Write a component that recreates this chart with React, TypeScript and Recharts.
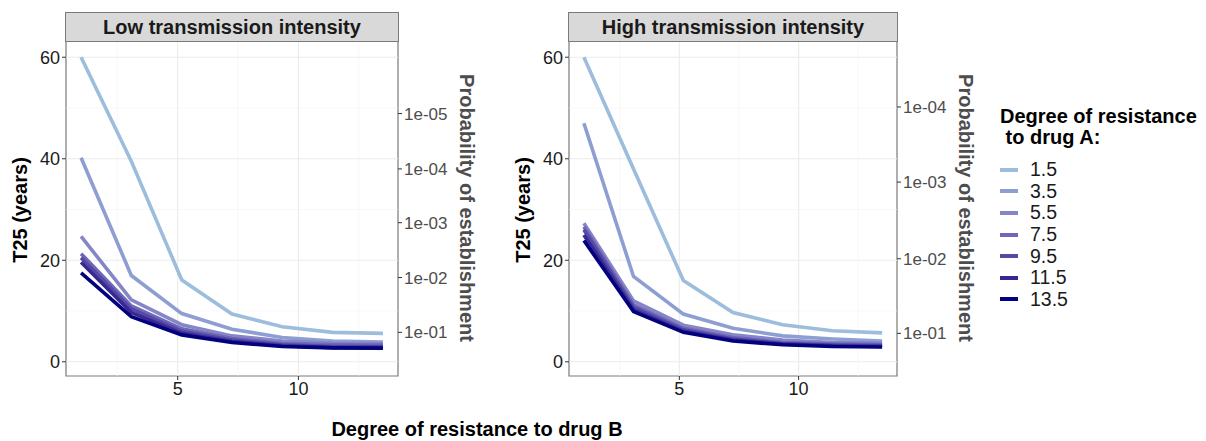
import { CSSProperties } from "react";
import { LineChart, Line, XAxis, YAxis, ReferenceLine, ReferenceArea } from "recharts";

// degree of resistance to drug B (x positions of the simulated points)
const X_VALUES = [1, 3.08, 5.17, 7.25, 9.33, 11.42, 13.5];

// degree of resistance to drug A (series)
const LEVELS = ["1.5", "3.5", "5.5", "7.5", "9.5", "11.5", "13.5"];
const COLORS = ["#9dbddd", "#8d9ed2", "#8585c8", "#6f68b9", "#5548a6", "#382894", "#02027f"];

// T25 (years), low transmission intensity
const low15 = [60, 39.5, 16.1, 9.4, 6.9, 5.8, 5.6];
const low35 = [40.2, 17.0, 9.5, 6.4, 4.8, 4.1, 3.9];
const low55 = [24.7, 12.2, 7.3, 5.1, 4.1, 3.7, 3.6];
const low75 = [21.3, 11.0, 6.5, 4.6, 3.6, 3.35, 3.3];
const low95 = [20.5, 10.4, 6.0, 4.3, 3.35, 3.0, 3.0];
const low115 = [19.6, 9.7, 5.6, 4.0, 3.15, 2.8, 2.8];
const low135 = [17.5, 8.9, 5.3, 3.8, 3.0, 2.75, 2.7];

// T25 (years), high transmission intensity
const high15 = [60, 38.0, 16.0, 9.7, 7.3, 6.1, 5.7];
const high35 = [47.0, 16.8, 9.4, 6.6, 5.1, 4.5, 4.1];
const high55 = [27.3, 12.0, 7.2, 5.3, 4.3, 3.8, 3.7];
const high75 = [26.6, 11.2, 6.6, 4.8, 3.8, 3.5, 3.4];
const high95 = [26.0, 10.7, 6.3, 4.5, 3.6, 3.3, 3.2];
const high115 = [25.0, 10.2, 6.0, 4.3, 3.5, 3.15, 3.0];
const high135 = [23.9, 9.9, 5.8, 4.1, 3.35, 3.0, 2.9];

// secondary axis: probability of establishment, placed on the T25 scale
const lowProbAt = [48.9, 38.0, 27.4, 16.6, 5.8];
const lowProbLabels = ["1e-05", "1e-04", "1e-03", "1e-02", "1e-01"];
const highProbAt = [50.2, 35.4, 20.3, 5.6];
const highProbLabels = ["1e-04", "1e-03", "1e-02", "1e-01"];

const T25_TICKS = [0, 20, 40, 60];
const X_TICKS = [5, 10];
const GRID_X = [2.5, 5, 7.5, 10, 12.5];
const GRID_Y = [0, 10, 20, 30, 40, 50, 60];

const X_DOMAIN: [number, number] = [0.375, 14.125];
const Y_DOMAIN: [number, number] = [-2.8, 63.2];

const FONT = '"Liberation Sans", Arial, Helvetica, sans-serif';

const buildRows = (series: number[][]) =>
    X_VALUES.map((x, i) => {
        const row: Record<string, number> = { x };
        series.forEach((s, k) => {
            row["s" + k] = s[i];
        });
        return row;
    });

const lowData = buildRows([low15, low35, low55, low75, low95, low115, low135]);
const highData = buildRows([high15, high35, high55, high75, high95, high115, high135]);

interface PanelProps {
    left: number;
    title: string;
    data: Record<string, number>[];
    probAt: number[];
    probLabels: string[];
    marginRight: number;
}

const W = 480;
const H = 441;
const PLOT_LEFT = 66;
const PLOT_TOP = 41;
const PLOT_BOTTOM = 376;

const Panel = ({ left, title, data, probAt, probLabels, marginRight }: PanelProps) => {
    const plotRight = W - marginRight - 50;
    const strip: CSSProperties = {
        position: "absolute",
        left: left + PLOT_LEFT - 1,
        top: 12,
        width: plotRight - PLOT_LEFT,
        height: 28,
        background: "#d9d9d9",
        border: "1px solid #7a7a7a",
        fontFamily: FONT,
        fontWeight: "bold",
        fontSize: 20,
        lineHeight: "28px",
        textAlign: "center",
        color: "#1a1a1a",
    };
    const leftTitle: CSSProperties = {
        position: "absolute",
        left: left + 20 - 100,
        top: 210 - 12,
        width: 200,
        height: 24,
        lineHeight: "24px",
        textAlign: "center",
        transform: "rotate(-90deg)",
        fontFamily: FONT,
        fontWeight: "bold",
        fontSize: 20,
        color: "#000",
        whiteSpace: "nowrap",
    };
    const rightTitle: CSSProperties = {
        position: "absolute",
        left: left + plotRight + 69 - 150,
        top: 208 - 12,
        width: 300,
        height: 24,
        lineHeight: "24px",
        textAlign: "center",
        transform: "rotate(90deg)",
        fontFamily: FONT,
        fontWeight: "bold",
        fontSize: 20,
        color: "#4d4d4d",
        whiteSpace: "nowrap",
    };

    return (
        <>
            <div style={{ position: "absolute", left, top: 0 }}>
                <LineChart
                    width={W}
                    height={H}
                    data={data}
                    margin={{ top: PLOT_TOP, left: PLOT_LEFT - 40, right: marginRight, bottom: H - PLOT_BOTTOM - 30 }}
                >
                    <XAxis
                        dataKey="x"
                        type="number"
                        domain={X_DOMAIN}
                        ticks={X_TICKS}
                        allowDataOverflow
                        height={30}
                        axisLine={false}
                        tickSize={4}
                        tickMargin={2}
                        tickLine={{ stroke: "#333" }}
                        tick={{ fontSize: 18, fill: "#1a1a1a", fontFamily: FONT }}
                    />
                    <YAxis
                        yAxisId="t25"
                        type="number"
                        domain={Y_DOMAIN}
                        ticks={T25_TICKS}
                        allowDataOverflow
                        width={40}
                        axisLine={false}
                        tickSize={4}
                        tickMargin={2}
                        tickLine={{ stroke: "#333" }}
                        tick={{ fontSize: 18, fill: "#1a1a1a", fontFamily: FONT }}
                    />
                    <YAxis
                        yAxisId="prob"
                        orientation="right"
                        type="number"
                        domain={Y_DOMAIN}
                        ticks={probAt}
                        allowDataOverflow
                        interval={0}
                        width={50}
                        axisLine={false}
                        tickSize={4}
                        tickMargin={2}
                        tickLine={{ stroke: "#333" }}
                        tickFormatter={(v: number) => probLabels[probAt.indexOf(v)] ?? ""}
                        tick={{ fontSize: 17, fill: "#4d4d4d", fontFamily: FONT }}
                    />
                    {GRID_Y.map((v) => (
                        <ReferenceLine key={"gy" + v} yAxisId="t25" y={v}
                                       stroke={v % 20 === 0 ? "#ebebeb" : "#f4f4f4"}
                                       strokeWidth={v % 20 === 0 ? 1.1 : 0.6}/>
                    ))}
                    {GRID_X.map((v) => (
                        <ReferenceLine key={"gx" + v} yAxisId="t25" x={v}
                                       stroke={v % 5 === 0 ? "#ebebeb" : "#f4f4f4"}
                                       strokeWidth={v % 5 === 0 ? 1.1 : 0.6}/>
                    ))}
                    {LEVELS.map((lvl, k) => (
                        <Line
                            key={lvl}
                            yAxisId="t25"
                            type="linear"
                            dataKey={"s" + k}
                            stroke={COLORS[k]}
                            strokeWidth={3.6}
                            dot={false}
                            isAnimationActive={false}
                        />
                    ))}
                    <ReferenceArea
                        yAxisId="t25"
                        x1={X_DOMAIN[0]}
                        x2={X_DOMAIN[1]}
                        y1={Y_DOMAIN[0]}
                        y2={Y_DOMAIN[1]}
                        fill="none"
                        fillOpacity={0}
                        stroke="#7a7a7a"
                        strokeWidth={1.2}
                        ifOverflow="visible"
                    />
                </LineChart>
            </div>
            <div style={strip}>{title}</div>
            <div style={leftTitle}>T25 (years)</div>
            <div style={rightTitle}>Probability of establishment</div>
        </>
    );
};

const App = () => {
    return (
        <div style={{ position: "absolute", left: 0, top: 0, width: 1206, height: 441, background: "#fff", overflow: "hidden" }}>
            <Panel left={0} title="Low transmission intensity" data={lowData}
                   probAt={lowProbAt} probLabels={lowProbLabels} marginRight={32}/>
            <Panel left={503} title="High transmission intensity" data={highData}
                   probAt={highProbAt} probLabels={highProbLabels} marginRight={36}/>

            <div style={{
                position: "absolute", left: 227, top: 417, width: 500, textAlign: "center",
                fontFamily: FONT, fontWeight: "bold", fontSize: 20, lineHeight: "24px", color: "#000",
            }}>
                Degree of resistance to drug B
            </div>

            <div style={{ position: "absolute", left: 1000, top: 106, fontFamily: FONT, color: "#000" }}>
                <div style={{ fontWeight: "bold", fontSize: 20, lineHeight: "21px", whiteSpace: "pre" }}>
                    {"Degree of resistance\n to drug A:"}
                </div>
                <div style={{ marginTop: 11 }}>
                    {LEVELS.map((lvl, k) => (
                        <div key={lvl} style={{ display: "flex", alignItems: "center", height: 21.6 }}>
                            <span style={{ display: "inline-block", width: 18, height: 4, background: COLORS[k] }}/>
                            <span style={{ marginLeft: 12, fontSize: 19.5, lineHeight: "21px", color: "#1a1a1a" }}>{lvl}</span>
                        </div>
                    ))}
                </div>
            </div>
        </div>
    );
};

export default App;
